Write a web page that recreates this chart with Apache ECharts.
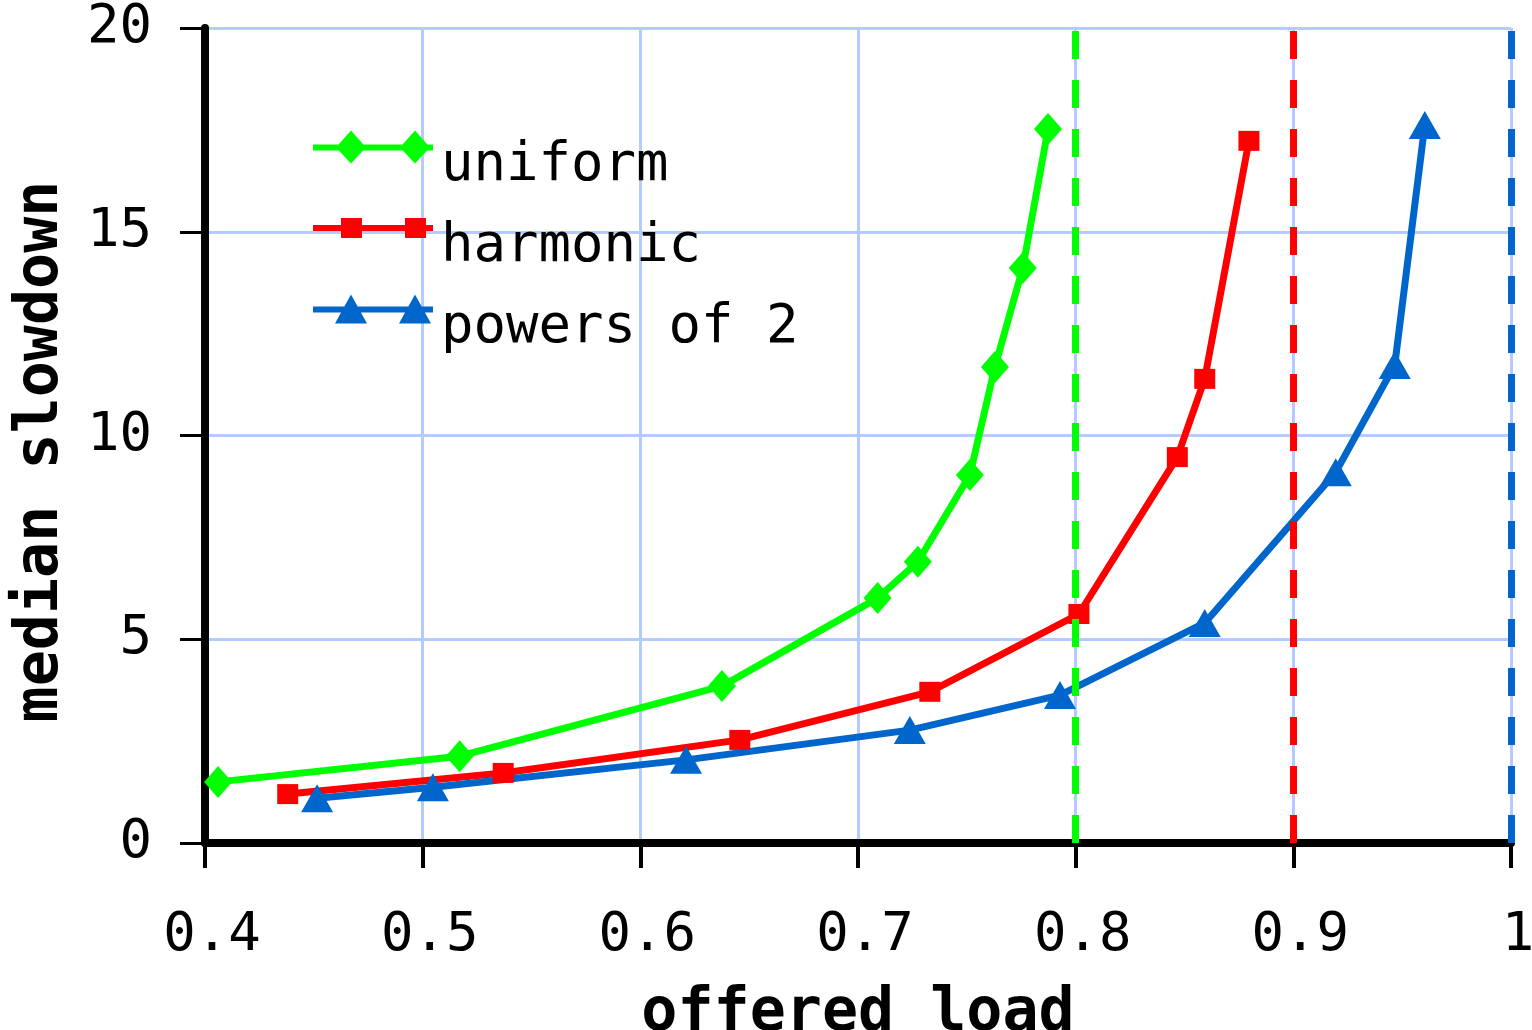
<!DOCTYPE html>
<html lang="en">
<head>
    <meta charset="UTF-8">
    <title>median slowdown</title>
    <style>
        body{ margin:0; background:#fff; }
    </style>
    <script src="https://cdn.jsdelivr.net/npm/echarts@6/dist/echarts.min.js"></script>
</head>
<body>
<div id="main" style="width:1532px;height:1030px;"></div>

<script>
    // x tick labels / y ticks
    let xTicks = [0.4, 0.5, 0.6, 0.7, 0.8, 0.9, 1.0];
    let yTicks = [0, 5, 10, 15, 20];

    let seriesNames = ['uniform', 'harmonic', 'powers of 2'];
    let seriesColors = ['#00ff00', '#ff0000', '#0066cc'];
    // capacity limit of each scheme (dashed verticals)
    let limits = [0.8, 0.9, 1.0];

    let uniform = [
        [0.406, 1.50], [0.517, 2.13], [0.6375, 3.85], [0.709, 6.01], [0.7275, 6.90],
        [0.7514, 9.03], [0.7629, 11.68], [0.7757, 14.11], [0.7873, 17.52]
    ];
    let harmonic = [
        [0.438, 1.20], [0.537, 1.72], [0.6457, 2.53], [0.733, 3.71], [0.8015, 5.62],
        [0.8467, 9.47], [0.8593, 11.39], [0.8796, 17.23]
    ];
    let powers2 = [
        [0.4515, 1.10], [0.5047, 1.37], [0.621, 2.04], [0.7238, 2.77], [0.7928, 3.63],
        [0.8593, 5.40], [0.9195, 9.10], [0.9466, 11.73], [0.9604, 17.62]
    ];

    let allData = [uniform, harmonic, powers2];
    let symbols = ['diamond', 'rect', 'triangle'];
    let symbolSizes = [[28, 32], [21, 20], [32, 28]];

    // legend icons: a line with two markers (box 120 x 33)
    let legendIcons = [
        'path://M0 14L120 14L120 20L0 20Z M23 17L38 0L53 17L38 33Z M87 17L102 0L117 17L102 33Z',
        'path://M0 14L120 14L120 20L0 20Z M28 7L49 7L49 27L28 27Z M92 7L113 7L113 27L92 27Z',
        'path://M0 14L120 14L120 20L0 20Z M22 31L38 2L54 31Z M86 31L102 2L118 31Z'
    ];

    var dom = document.getElementById("main");
    var myChart = echarts.init(dom);

    let textFont = '"DejaVu Sans Mono", monospace';

    let series = seriesNames.map(function (name, i) {
        return {
            name: name,
            type: 'line',
            data: allData[i],
            color: seriesColors[i],
            symbol: symbols[i],
            symbolSize: symbolSizes[i],
            lineStyle: {width: 7, color: seriesColors[i]},
            itemStyle: {color: seriesColors[i]},
            markLine: {
                silent: true,
                symbol: 'none',
                label: {show: false},
                lineStyle: {color: seriesColors[i], width: 7, type: [28, 21]},
                data: [{xAxis: limits[i]}]
            }
        };
    });

    let option = {
        animation: false,
        backgroundColor: '#fff',
        grid: {left: 205, right: 21, top: 28, bottom: 187, containLabel: false, outerBoundsMode: 'none'},
        legend: {
            orient: 'vertical',
            left: 308,
            top: 96,
            itemWidth: 120,
            itemHeight: 33,
            itemGap: -11,
            data: seriesNames.map(function (n, i) {
                return {name: n, icon: legendIcons[i]};
            }),
            formatter: '{t|{name}}',
            textStyle: {
                color: '#000',
                rich: {
                    t: {
                        fontFamily: textFont,
                        fontSize: 54,
                        lineHeight: 33,
                        color: '#000',
                        padding: [38, 0, 0, 3]
                    }
                }
            }
        },
        xAxis: {
            type: 'value',
            min: xTicks[0],
            max: xTicks[xTicks.length - 1],
            interval: 0.1,
            name: 'offered load',
            nameLocation: 'middle',
            nameGap: 141,
            nameTextStyle: {fontFamily: textFont, fontSize: 60, fontWeight: 'bold', color: '#000'},
            axisLine: {show: true, onZero: false, lineStyle: {color: '#000', width: 8}},
            axisTick: {show: true, length: 25, lineStyle: {color: '#000', width: 4}},
            axisLabel: {
                margin: 66,
                padding: [0, 0, 0, 14],
                fontFamily: textFont,
                fontSize: 54,
                color: '#000',
                formatter: function (v) { return String(+v.toFixed(1)); }
            },
            splitLine: {show: true, lineStyle: {color: '#b4cbff', width: 3}}
        },
        yAxis: {
            type: 'value',
            min: yTicks[0],
            max: yTicks[yTicks.length - 1],
            interval: 5,
            name: 'median slowdown',
            nameLocation: 'middle',
            nameGap: 134,
            nameTextStyle: {
                fontFamily: textFont, fontSize: 60, fontWeight: 'bold', color: '#000',
                padding: [0, 32, 0, 0]
            },
            axisLine: {show: true, onZero: false, lineStyle: {color: '#000', width: 8}},
            axisTick: {show: true, length: 25, lineStyle: {color: '#000', width: 3}},
            axisLabel: {
                margin: 53,
                fontFamily: textFont,
                fontSize: 54,
                color: '#000'
            },
            splitLine: {show: true, lineStyle: {color: '#b4cbff', width: 3}}
        },
        series: series
    };

    myChart.setOption(option, true);
</script>
</body>
</html>
